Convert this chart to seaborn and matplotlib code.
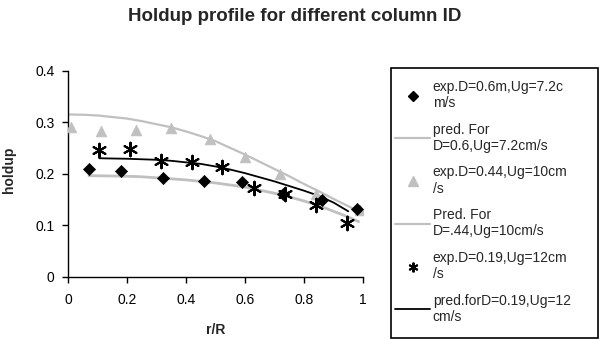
import matplotlib
matplotlib.use("Agg")
import matplotlib.pyplot as plt
import seaborn as sns
import pandas as pd
from matplotlib.lines import Line2D
from matplotlib.patches import Rectangle

# ---- data ----
r_exp06 = [0.07, 0.18, 0.32, 0.46, 0.59, 0.73, 0.86, 0.98]
h_exp06 = [0.209, 0.205, 0.192, 0.186, 0.184, 0.161, 0.148, 0.132]

r_pred06 = [0.07, 0.1, 0.15, 0.2, 0.25, 0.3, 0.35, 0.4, 0.45, 0.5, 0.55, 0.6,
            0.65, 0.7, 0.75, 0.8, 0.85, 0.9, 0.95, 0.985]
h_pred06 = [0.196, 0.196, 0.1955, 0.195, 0.194, 0.192, 0.190, 0.188, 0.185,
            0.182, 0.178, 0.174, 0.168, 0.162, 0.155, 0.147, 0.138, 0.127,
            0.116, 0.107]

r_exp044 = [0.01, 0.11, 0.23, 0.35, 0.48, 0.60, 0.72, 0.84, 0.99]
h_exp044 = [0.290, 0.283, 0.285, 0.288, 0.267, 0.232, 0.199, 0.160, 0.129]

r_pred044 = [0.0, 0.05, 0.1, 0.15, 0.2, 0.25, 0.3, 0.35, 0.4, 0.45, 0.5, 0.55,
             0.6, 0.65, 0.7, 0.75, 0.8, 0.85, 0.9, 0.95, 1.0]
h_pred044 = [0.315, 0.3145, 0.313, 0.310, 0.307, 0.302, 0.296, 0.290, 0.282,
             0.273, 0.263, 0.250, 0.237, 0.223, 0.209, 0.195, 0.180, 0.166,
             0.151, 0.137, 0.122]

r_exp019 = [0.105, 0.21, 0.315, 0.42, 0.52, 0.63, 0.735, 0.84, 0.945]
h_exp019 = [0.246, 0.247, 0.225, 0.222, 0.213, 0.173, 0.161, 0.140, 0.104]

r_pred019 = [0.105, 0.15, 0.2, 0.25, 0.3, 0.35, 0.4, 0.45, 0.5, 0.55, 0.6,
             0.65, 0.7, 0.75, 0.8, 0.85, 0.9, 0.95]
h_pred019 = [0.230, 0.2295, 0.229, 0.228, 0.227, 0.225, 0.222, 0.219, 0.214,
             0.208, 0.201, 0.193, 0.185, 0.176, 0.167, 0.157, 0.144, 0.127]

labels = [
    "exp.D=0.6m,Ug=7.2c\nm/s",
    "pred. For\nD=0.6,Ug=7.2cm/s",
    "exp.D=0.44,Ug=10cm\n/s",
    "Pred. For\nD=.44,Ug=10cm/s",
    "exp.D=0.19,Ug=12cm\n/s",
    "pred.forD=0.19,Ug=12\ncm/s",
]
x_ticks = [0, 0.2, 0.4, 0.6, 0.8, 1]
x_ticklabels = ["0", "0.2", "0.4", "0.6", "0.8", "1"]
y_ticks = [0, 0.1, 0.2, 0.3, 0.4]
y_ticklabels = ["0", "0.1", "0.2", "0.3", "0.4"]

# ---- style ----
sns.set_style("ticks")
plt.rcParams['font.family'] = ['Liberation Sans', 'DejaVu Sans']

GREY = "#c0c0c0"
W, H = 599, 339

fig = plt.figure(figsize=(5.99, 3.39), dpi=100)
ax = fig.add_axes([68.3 / W, 1 - 276.7 / H, (363 - 68.3) / W, (276.7 - 70.7) / H])

df06 = pd.DataFrame({"r": r_exp06, "h": h_exp06})
dp06 = pd.DataFrame({"r": r_pred06, "h": h_pred06})
df044 = pd.DataFrame({"r": r_exp044, "h": h_exp044})
dp044 = pd.DataFrame({"r": r_pred044, "h": h_pred044})
df019 = pd.DataFrame({"r": r_exp019, "h": h_exp019})
dp019 = pd.DataFrame({"r": r_pred019, "h": h_pred019})

sns.lineplot(data=dp044, x="r", y="h", ax=ax, color=GREY, lw=1.6,
             sort=False, estimator=None)
sns.lineplot(data=dp06, x="r", y="h", ax=ax, color=GREY, lw=2.0,
             sort=False, estimator=None)
sns.lineplot(data=dp019, x="r", y="h", ax=ax, color="black", lw=1.3,
             sort=False, estimator=None)

sns.scatterplot(data=df044, x="r", y="h", ax=ax, marker="^", s=60,
                color=GREY, edgecolor=GREY, linewidth=0.5, zorder=3)
sns.scatterplot(data=df06, x="r", y="h", ax=ax, marker="D", s=38,
                color="black", edgecolor="black", linewidth=0.5, zorder=3)
sns.scatterplot(data=df019, x="r", y="h", ax=ax, marker=(6, 2, 0), s=95,
                color="black", edgecolor="black", linewidth=1.5, zorder=4)

ax.set_xlim(0, 1)
ax.set_ylim(0, 0.4)
ax.set_xticks(x_ticks)
ax.set_xticklabels(x_ticklabels)
ax.set_yticks(y_ticks)
ax.set_yticklabels(y_ticklabels)
ax.tick_params(axis="both", labelsize=10, direction="out", length=4,
               width=1, color="black", labelcolor="black")
ax.tick_params(axis="x", pad=8)
ax.tick_params(axis="y", pad=6)
for s in ["left", "bottom"]:
    ax.spines[s].set_color("black")
    ax.spines[s].set_linewidth(1)
sns.despine(ax=ax)
ax.set_xlabel("r/R", fontsize=10, fontweight="bold", labelpad=11)
ax.set_ylabel("holdup", fontsize=10, fontweight="bold")
ax.yaxis.set_label_coords(-0.177, 0.518)

fig.suptitle("Holdup profile for different column ID", fontsize=13.5,
             fontweight="bold", x=0.4925, y=0.975)

handles = [
    Line2D([], [], ls="none", marker="D", ms=5, color="black"),
    Line2D([], [], color=GREY, lw=1.6),
    Line2D([], [], ls="none", marker="^", ms=7, color=GREY),
    Line2D([], [], color=GREY, lw=1.6),
    Line2D([], [], ls="none", marker=(6, 2, 0), ms=7, mew=1.4, color="black"),
    Line2D([], [], color="black", lw=1.3),
]
leg = fig.legend(handles, labels, loc="upper left",
                 bbox_to_anchor=(395 / W, 1 - 80 / H),
                 fontsize=10, frameon=False,
                 handlelength=2.52, handletextpad=0.2,
                 labelspacing=0.9, borderpad=0, borderaxespad=0)

frame = Rectangle((391 / W, 1 - 338 / H), (598 - 391) / W, (338 - 68) / H,
                  transform=fig.transFigure, fill=False, edgecolor="black",
                  linewidth=1.2)
fig.patches.append(frame)

fig.savefig("out.png", dpi=100)
